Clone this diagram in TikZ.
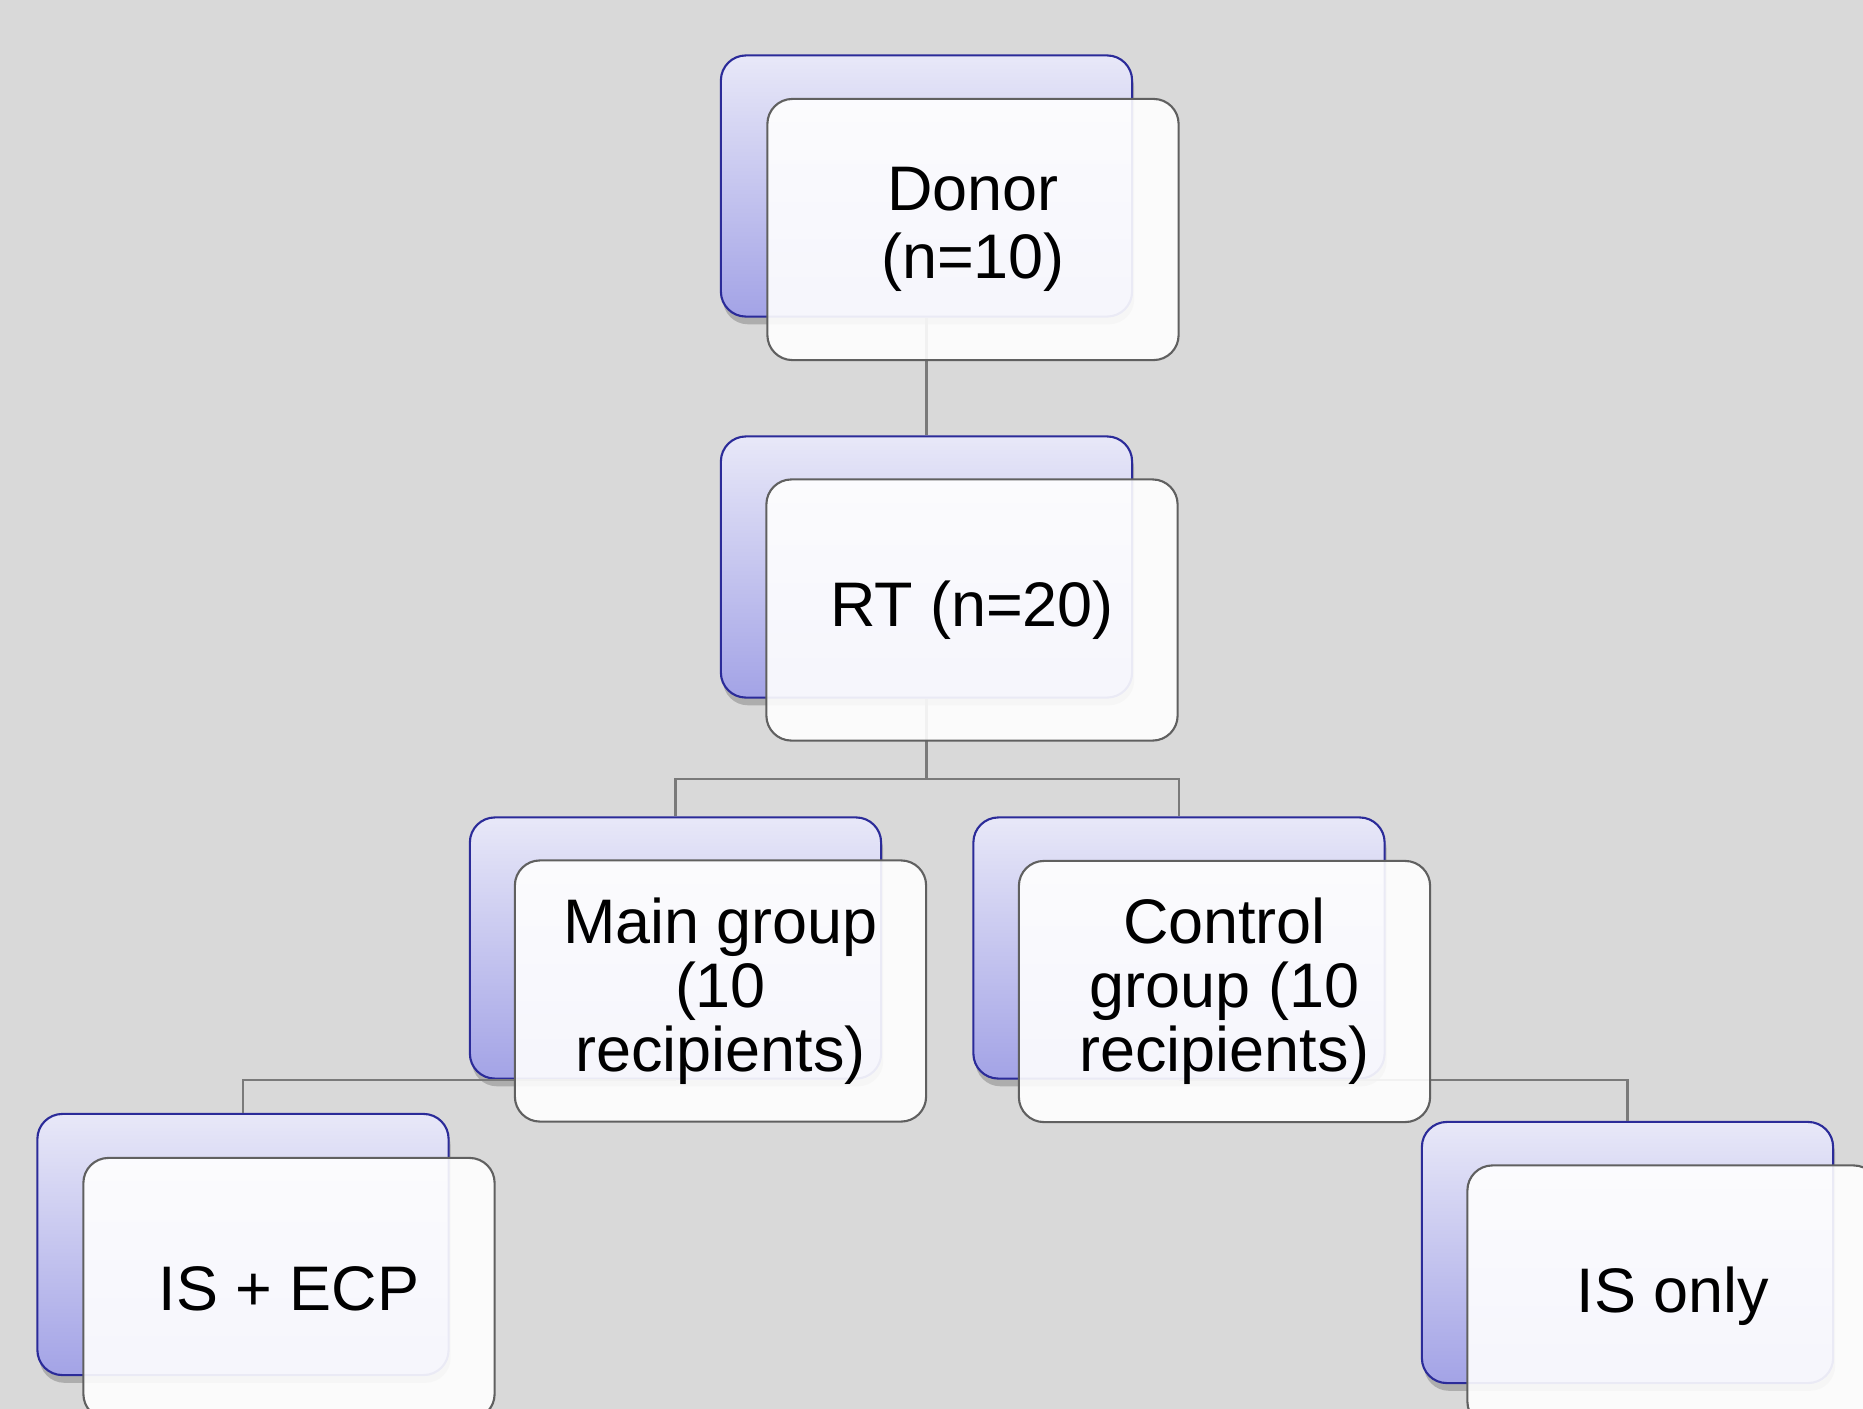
\documentclass[tikz,border=0pt]{standalone}
\usepackage{fontspec}
\setmainfont{Liberation Sans}
\usetikzlibrary{shadows}

\definecolor{bggray}{HTML}{D9D9D9}
\definecolor{boxtop}{HTML}{E8E8F8}
\definecolor{boxbottom}{HTML}{A3A3E6}
\definecolor{boxedge}{HTML}{2B2B99}
\definecolor{cardfill}{HTML}{FFFFFF}
\definecolor{cardedge}{HTML}{606060}
\definecolor{linkgray}{HTML}{7A7A7A}

\tikzset{
	backbox/.style={draw=boxedge, line width=0.6pt, rounded corners=0.25cm,
		top color=boxtop, bottom color=boxbottom,
		minimum width=4.11cm, minimum height=2.61cm,
		drop shadow={shadow xshift=0.6pt, shadow yshift=-2.2pt, opacity=0.2, fill=black}},
	frontbox/.style={draw=cardedge, line width=0.6pt, rounded corners=0.25cm,
		fill=cardfill, fill opacity=0.9, text opacity=1,
		minimum width=4.11cm, minimum height=2.61cm, align=center,
		font=\fontsize{17.9}{19.4}\selectfont},
	link/.style={draw=linkgray, line width=0.6pt}
}

\begin{document}
\begin{tikzpicture}[x=0.01cm, y=-0.01cm]
		\useasboundingbox (0,0) rectangle (1863,1409);
		\clip (0,0) rectangle (1863,1409);
		\fill[bggray] (0,0) rectangle (1863,1409);
		% back boxes
		\node[backbox] (donorb) at (926.5,186) {};
		\node[backbox] (rtb) at (926.5,567) {};
		\node[backbox] (mainb) at (675.5,948) {};
		\node[backbox] (ctrlb) at (1179,948) {};
		\node[backbox] (isecpb) at (243,1244.5) {};
		\node[backbox] (isonlyb) at (1627.5,1252.5) {};
		\coordinate (rtfork) at (926.5,779);
		% connectors
		\draw[link] (donorb.south) -- (rtb.north);
		\draw[link] (rtb.south) -- (rtfork) -| (mainb.north);
		\draw[link] (rtfork) -| (ctrlb.north);
		\draw[link] (mainb.south) -| (isecpb.north);
		\draw[link] (ctrlb.south) -| (isonlyb.north);
		% front cards with text
		\node[frontbox] (donor) at (973,229.5) {Donor\\(n=10)};
		\node[frontbox] (rt) at (972,610) {RT (n=20)};
		\node[frontbox, font=\fontsize{17.9}{18.2}\selectfont] (main) at (720.5,991) {Main group\\(10\\recipients)};
		\node[frontbox, font=\fontsize{17.9}{18.2}\selectfont] (ctrl) at (1224.5,991.5) {Control\\group (10\\recipients)};
		\node[frontbox] (isecp) at (289,1288.5) {IS + ECP};
		\node[frontbox] (isonly) at (1673,1296) {IS only};
	\end{tikzpicture}
\end{document}
